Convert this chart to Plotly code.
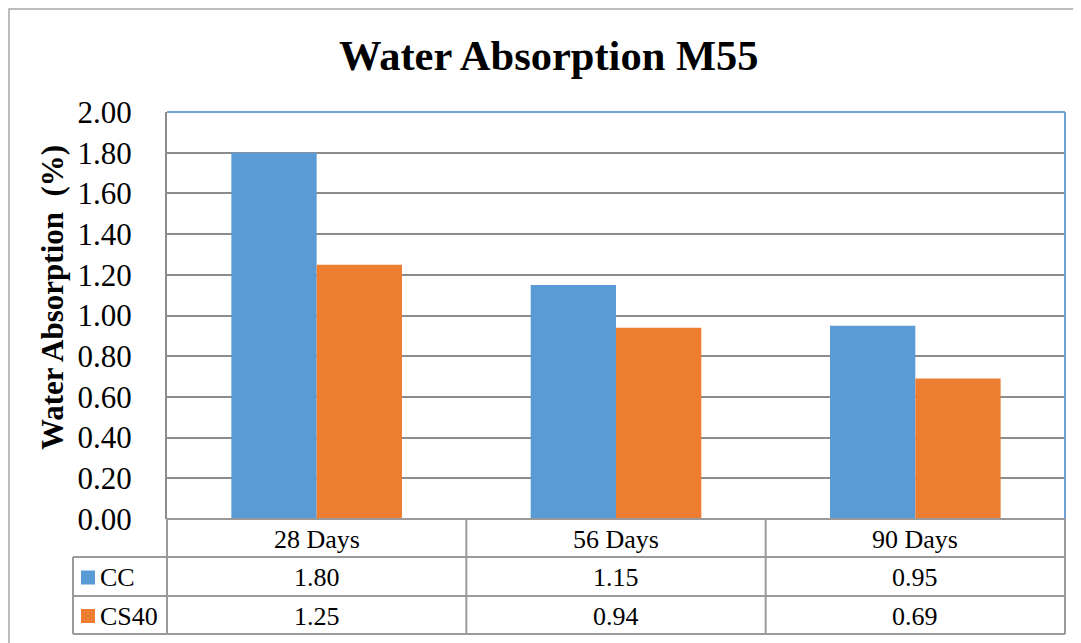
import plotly.graph_objects as go

categories = ["28 Days", "56 Days", "90 Days"]
series_names = ["CC", "CS40"]
cc_values = [1.80, 1.15, 0.95]
cs40_values = [1.25, 0.94, 0.69]
series_values = [cc_values, cs40_values]
colors = ["#5B9BD5", "#ED7D31"]

OFF = 8  # page body margin offset
W, H = 1081 - OFF, 643 - OFF
PL, PR, PT, PB = 167 - OFF, 1065 - OFF, 112 - OFF, 519 - OFF  # plot area in figure pixels
FONT = "Liberation Serif"
GRID = "#8C8C8C"
TBL = "#9A9A9A"


def px(x):
    return (x - OFF - PL) / (PR - PL)


def py(y):
    return (PB - (y - OFF)) / (PB - PT)


fig = go.Figure()
for name, vals, col in zip(series_names, series_values, colors):
    fig.add_trace(go.Bar(x=categories, y=vals, name=name, marker=dict(color=col, line=dict(width=0))))

shapes = []
annotations = []

# outer chart border
shapes.append(dict(type="rect", xref="paper", yref="paper", x0=px(9), x1=px(1100), y0=py(9), y1=py(680),
                   line=dict(color="#A6A6A6", width=1.5), fillcolor="rgba(0,0,0,0)", layer="below"))
# plot area blue border top & right
shapes.append(dict(type="line", xref="paper", yref="paper", x0=0, x1=1, y0=1, y1=1,
                   line=dict(color="#6FA3D8", width=2)))
shapes.append(dict(type="line", xref="paper", yref="paper", x0=1, x1=1, y0=0, y1=1,
                   line=dict(color="#6FA3D8", width=2)))

# data table lines (screen pixel coordinates)
SPL, SPR = 167, 1065
rows_y = [519, 557, 596, 634]
col_x = [SPL + i * (SPR - SPL) / len(categories) for i in range(len(categories) + 1)]
shapes.append(dict(type="line", xref="paper", yref="paper", x0=px(SPL), x1=px(SPR), y0=py(rows_y[0]), y1=py(rows_y[0]),
                   line=dict(color=TBL, width=2)))
for yy in rows_y[1:]:
    shapes.append(dict(type="line", xref="paper", yref="paper", x0=px(73), x1=px(SPR), y0=py(yy), y1=py(yy),
                       line=dict(color=TBL, width=2)))
for xx in col_x:
    shapes.append(dict(type="line", xref="paper", yref="paper", x0=px(xx), x1=px(xx), y0=py(rows_y[0]), y1=py(rows_y[-1]),
                       line=dict(color=TBL, width=2)))
shapes.append(dict(type="line", xref="paper", yref="paper", x0=px(73), x1=px(73), y0=py(rows_y[1]), y1=py(rows_y[-1]),
                   line=dict(color=TBL, width=2)))

# header text
for i, cat in enumerate(categories):
    cx = (col_x[i] + col_x[i + 1]) / 2
    annotations.append(dict(xref="paper", yref="paper", x=px(cx), y=py((rows_y[0] + rows_y[1]) / 2 + 1),
                            text=cat, showarrow=False, xanchor="center", yanchor="middle",
                            font=dict(family=FONT, size=26, color="black")))
# series rows
for r, (name, vals, col) in enumerate(zip(series_names, series_values, colors)):
    yc = (rows_y[r + 1] + rows_y[r + 2]) / 2 + 1
    shapes.append(dict(type="rect", xref="paper", yref="paper", x0=px(81), x1=px(95), y0=py(yc - 7), y1=py(yc + 7),
                       fillcolor=col, line=dict(width=0)))
    annotations.append(dict(xref="paper", yref="paper", x=px(98), y=py(yc), text=name, showarrow=False,
                            xanchor="left", yanchor="middle", font=dict(family=FONT, size=26, color="black")))
    for i, v in enumerate(vals):
        cx = (col_x[i] + col_x[i + 1]) / 2
        annotations.append(dict(xref="paper", yref="paper", x=px(cx), y=py(yc), text=f"{v:.2f}", showarrow=False,
                                xanchor="center", yanchor="middle", font=dict(family=FONT, size=26, color="black")))

# title
annotations.append(dict(xref="paper", yref="paper", x=px(549), y=py(56), text="<b>Water Absorption M55</b>",
                        showarrow=False, xanchor="center", yanchor="middle",
                        font=dict(family=FONT, size=42.5, color="black")))
# y axis title
annotations.append(dict(xref="paper", yref="paper", x=px(52), y=py(298), text="<b>Water Absorption  (%)</b>",
                        showarrow=False, xanchor="center", yanchor="middle", textangle=-90,
                        font=dict(family=FONT, size=31, color="black")))

fig.update_layout(
    width=W, height=H,
    margin=dict(l=PL, r=W - PR, t=PT, b=H - PB, pad=0),
    paper_bgcolor="white", plot_bgcolor="white",
    barmode="group", bargap=0.43, bargroupgap=0,
    showlegend=False,
    shapes=shapes, annotations=annotations,
    xaxis=dict(showticklabels=False, showgrid=False, zeroline=False, showline=False, ticks=""),
    yaxis=dict(range=[0, 2], dtick=0.2, tickformat=".2f", showgrid=True, gridcolor=GRID, gridwidth=1.5,
               zeroline=False, showline=True, linecolor="#8C8C8C", linewidth=2, ticks="",
               ticklabelstandoff=27,
               tickfont=dict(family=FONT, size=31, color="black")),
)

fig.write_html("out.html")
